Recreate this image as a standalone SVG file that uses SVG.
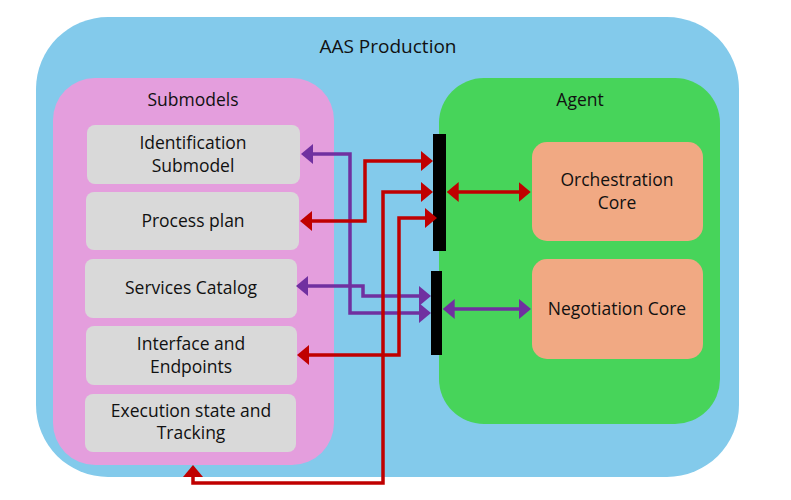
<svg xmlns="http://www.w3.org/2000/svg" width="791" height="500" viewBox="0 0 791 500">
<style>
text{font-family:"Open Sans","Liberation Sans",sans-serif;fill:#111;text-anchor:middle}
.t{font-size:17.5px}
.title{font-size:19px}
.box{fill:#D9D9D9}
.core{fill:#F1A983}
.bar{fill:#000}
.r{fill:none;stroke:#C00000;stroke-width:3.5;marker-start:url(#ar);marker-end:url(#ar)}
.p{fill:none;stroke:#7030A0;stroke-width:3.5;marker-start:url(#ap);marker-end:url(#ap)}
</style>
<defs>
<marker id="ar" markerUnits="userSpaceOnUse" markerWidth="12" markerHeight="20" refX="2" refY="10" orient="auto-start-reverse" viewBox="0 0 12 20"><path d="M0,0L12,10L0,20z" fill="#C00000"/></marker>
<marker id="ap" markerUnits="userSpaceOnUse" markerWidth="12" markerHeight="20" refX="2" refY="10" orient="auto-start-reverse" viewBox="0 0 12 20"><path d="M0,0L12,10L0,20z" fill="#7030A0"/></marker>
</defs>
<g id="aas-production">
<rect x="36" y="17" width="703" height="460" rx="72" fill="#83CAEB"/>
<text class="title" x="388" y="53">AAS Production</text>
</g>
<g id="submodels">
<rect x="53" y="78" width="281" height="387" rx="42" fill="#E49EDD"/>
<text class="t" x="193" y="106">Submodels</text>
</g>
<g id="agent">
<rect x="439" y="78" width="281" height="346" rx="45" fill="#47D45A"/>
<text class="t" x="580" y="106">Agent</text>
</g>
<g id="identification-submodel">
<rect class="box" x="87" y="125" width="213" height="59" rx="8"/>
<text class="t" x="193" y="149">Identification</text>
<text class="t" x="193" y="172">Submodel</text>
</g>
<g id="process-plan">
<rect class="box" x="86" y="192" width="213" height="58" rx="8"/>
<text class="t" x="193" y="227">Process plan</text>
</g>
<g id="services-catalog">
<rect class="box" x="85" y="259" width="212" height="59" rx="8"/>
<text class="t" x="191" y="294">Services Catalog</text>
</g>
<g id="interface-endpoints">
<rect class="box" x="86" y="326" width="211" height="59" rx="8"/>
<text class="t" x="191" y="350">Interface and</text>
<text class="t" x="191" y="373">Endpoints</text>
</g>
<g id="execution-state">
<rect class="box" x="85" y="394" width="211" height="58" rx="8"/>
<text class="t" x="191" y="417">Execution state and</text>
<text class="t" x="191" y="439">Tracking</text>
</g>
<g id="orchestration-core">
<rect class="core" x="532" y="142" width="171" height="99" rx="15"/>
<text class="t" x="617" y="186">Orchestration</text>
<text class="t" x="617" y="209">Core</text>
</g>
<g id="negotiation-core">
<rect class="core" x="532" y="259" width="171" height="100" rx="15"/>
<text class="t" x="617" y="315">Negotiation Core</text>
</g>
<g id="bar-top"><rect class="bar" x="433" y="134" width="13" height="117"/></g>
<g id="bar-bottom"><rect class="bar" x="431" y="271" width="11" height="84"/></g>
<g id="connectors">
<path class="p" d="M311,154H350V313H421"/>
<path class="p" d="M306,286H363V296H421"/>
<path class="r" d="M310,221H365V161H423"/>
<path class="r" d="M193,475V483H383V192H423"/>
<path class="r" d="M307,355H399V218H427"/>
<path class="r" d="M456.7,192H520.7"/>
<path class="p" d="M452.7,309H521"/>
</g>
</svg>
